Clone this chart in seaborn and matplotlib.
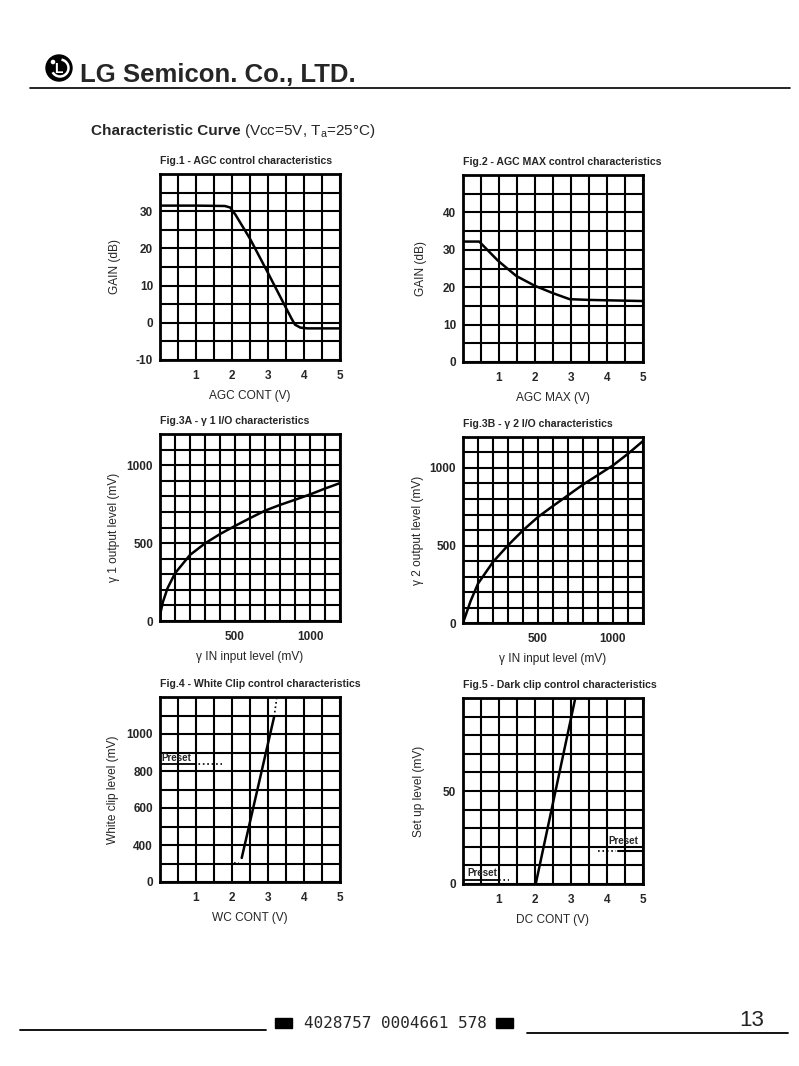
import matplotlib
matplotlib.use("Agg")
import matplotlib.pyplot as plt
from matplotlib.patches import Circle, Arc, Rectangle
import seaborn as sns

# Fig.1 - AGC control characteristics
agc_cont = [0, 1.0, 1.8, 1.95, 2.1, 2.5, 3.0, 3.5, 3.65, 3.75, 3.9, 4.1, 5.0]
agc_gain = [31.5, 31.5, 31.4, 31.0, 29.0, 22.6, 13.4, 4.0, 1.2, -0.5, -1.3, -1.5, -1.5]

# Fig.2 - AGC MAX control characteristics
agc_max = [0, 0.45, 0.97, 1.48, 1.99, 2.5, 2.96, 3.5, 4.0, 4.5, 5.0]
agc_max_gain = [32.2, 32.2, 27.1, 23.0, 20.4, 18.4, 16.8, 16.6, 16.5, 16.4, 16.3]

# Fig.3A - gamma1 I/O
g1_in = [0, 5, 20, 50, 100, 200, 300, 400, 500, 600, 700, 800, 900, 1000, 1100, 1200]
g1_out = [0, 60, 124, 210, 306, 424, 498, 558, 610, 660, 708, 745, 778, 812, 850, 885]

# Fig.3B - gamma2 I/O
g2_in = [0, 50, 100, 200, 300, 400, 500, 600, 700, 800, 900, 1000, 1100, 1200]
g2_out = [0, 140, 254, 394, 501, 598, 684, 755, 824, 893, 955, 1017, 1092, 1174]

# Fig.4 - White clip control
wc_cont = [2.27, 3.17]
wc_level = [330, 1093]
wc_top_cont = [3.17, 3.24]
wc_top_level = [1093, 1190]
wc_low_cont = [2.05, 2.2]
wc_low_level = [305, 305]
wc_preset = 836

# Fig.5 - Dark clip control
dc_cont = [2.02, 3.12]
dc_level = [0, 100]
dc_preset_low = 2
dc_preset_high = 18

W, H = 799, 1066
TICK = 8.5
LABEL = 8.6
TITLE = 7.6
PRESET = 7

sns.set_style("white")
plt.rcParams['font.family'] = ['Liberation Sans', 'DejaVu Sans']
plt.rcParams['mathtext.fontset'] = 'custom'
plt.rcParams['mathtext.rm'] = 'Liberation Sans'

fig = plt.figure(figsize=(W / 100, H / 100), dpi=100)

# page layer for header / footer, drawn in pixel coordinates
page = fig.add_axes([0, 0, 1, 1], zorder=0)
page.set_xlim(0, W)
page.set_ylim(H, 0)
page.axis('off')

# LG logo
page.add_patch(Circle((59, 68), 13, color='black'))
page.add_patch(Arc((60, 68), 17, 17, theta1=-80, theta2=150, color='white', lw=1.8))
page.text(58, 69, 'L', color='white', fontsize=10, fontweight='bold', ha='center', va='center')
page.add_patch(Circle((53, 62), 1.6, color='white'))
page.text(80, 82, 'LG Semicon. Co., LTD.', fontsize=18.5, fontweight='bold', va='baseline')
page.plot([30, 790], [88, 88], color='black', lw=1.2)

page.text(91, 135, 'Characteristic Curve', fontsize=11, fontweight='bold', va='baseline')
page.text(244, 135, r'(Vcc=5V, T$_\mathregular{a}$=25°C)', fontsize=11, va='baseline')

# footer
page.plot([20, 266], [1030, 1030], color='black', lw=1.3)
page.add_patch(Rectangle((275, 1018), 17, 10, color='black'))
page.text(395, 1024, '4028757 0004661 578', fontsize=11.5, family='DejaVu Sans Mono',
          ha='center', va='center')
page.add_patch(Rectangle((496, 1018), 17, 10, color='black'))
page.plot([527, 788], [1033, 1033], color='black', lw=1.3)
page.text(752, 1020, '13', fontsize=16, color='#222222', ha='center', va='center')


def panel(px, xlim, ylim, xgrid, xlabels, ygrid, ylabels, title, xlab, ylab, ylab_px):
    l, t, r, b = px
    ax = fig.add_axes([l / W, 1 - b / H, (r - l) / W, (b - t) / H], zorder=2)
    ax.set_xlim(*xlim)
    ax.set_ylim(*ylim)
    ax.set_xticks(xgrid)
    ax.set_xticklabels(xlabels, fontsize=TICK, fontweight='bold')
    ax.set_yticks(ygrid)
    ax.set_yticklabels(ylabels, fontsize=TICK, fontweight='bold')
    ax.tick_params(length=0, axis='x', pad=7)
    ax.tick_params(length=0, axis='y', pad=5)
    ax.grid(True, color='black', lw=1.5)
    for s in ax.spines.values():
        s.set_color('black')
        s.set_linewidth(2)
    ax.set_title(title, loc='left', fontsize=TITLE, fontweight='bold', pad=7)
    ax.set_xlabel(xlab, fontsize=LABEL, va='center')
    ax.xaxis.set_label_coords(0.5, -36 / (b - t))
    ax.set_ylabel(ylab, fontsize=LABEL, va='center')
    ax.yaxis.set_label_coords((ylab_px - l) / (r - l), 0.5)
    return ax


def fr(a, b, s):
    out = []
    v = a
    while v <= b + 1e-9:
        out.append(round(v, 3))
        v += s
    return out


def lab(vals, show):
    return [(str(int(v)) if v in show else '') for v in vals]


# Fig.1
xg = fr(0, 5, 0.5)
yg = fr(-10, 40, 5)
ax1 = panel((160, 174, 340, 360), (0, 5), (-10, 40), xg, lab(xg, [1, 2, 3, 4, 5]),
            yg, lab(yg, [-10, 0, 10, 20, 30]),
            'Fig.1 - AGC control characteristics', 'AGC CONT (V)', 'GAIN (dB)', 115)
sns.lineplot(x=agc_cont, y=agc_gain, ax=ax1, color='black', lw=1.8, sort=False, estimator=None)

# Fig.2
yg = fr(0, 50, 5)
ax2 = panel((463, 175, 643, 362), (0, 5), (0, 50), xg, lab(xg, [1, 2, 3, 4, 5]),
            yg, lab(yg, [0, 10, 20, 30, 40]),
            'Fig.2 - AGC MAX control characteristics', 'AGC MAX (V)', 'GAIN (dB)', 421)
sns.lineplot(x=agc_max, y=agc_max_gain, ax=ax2, color='black', lw=1.8, sort=False, estimator=None)

# Fig.3A
g = fr(0, 1200, 100)
ax3 = panel((160, 434, 340, 621), (0, 1200), (0, 1200), g, lab(g, [500, 1000]),
            g, lab(g, [0, 500, 1000]),
            'Fig.3A - \u03b3 1 I/O characteristics', '\u03b3 IN input level (mV)',
            '\u03b3 1 output level (mV)', 114)
sns.lineplot(x=g1_in, y=g1_out, ax=ax3, color='black', lw=1.8, sort=False, estimator=None)

# Fig.3B
ax4 = panel((463, 437, 643, 623), (0, 1200), (0, 1200), g, lab(g, [500, 1000]),
            g, lab(g, [0, 500, 1000]),
            'Fig.3B - \u03b3 2 I/O characteristics', '\u03b3 IN input level (mV)',
            '\u03b3 2 output level (mV)', 418)
sns.lineplot(x=g2_in, y=g2_out, ax=ax4, color='black', lw=1.8, sort=False, estimator=None)

# Fig.4 (bottom row stands for 0..300 mV)
yg = fr(200, 1200, 100)
ylab4 = ['0' if v == 200 else ('' if v not in (400, 600, 800, 1000) else str(int(v))) for v in yg]
ax5 = panel((160, 697, 340, 882), (0, 5), (200, 1200), xg, lab(xg, [1, 2, 3, 4, 5]),
            yg, ylab4,
            'Fig.4 - White Clip control characteristics', 'WC CONT (V)',
            'White clip level (mV)', 113)
sns.lineplot(x=wc_cont, y=wc_level, ax=ax5, color='black', lw=1.8, sort=False, estimator=None)
sns.lineplot(x=wc_top_cont, y=wc_top_level, ax=ax5, color='black', lw=1.2, ls=':', sort=False, estimator=None)
sns.lineplot(x=wc_low_cont, y=wc_low_level, ax=ax5, color='black', lw=1.2, ls=':', sort=False, estimator=None)
sns.lineplot(x=[0, 0.95], y=[wc_preset, wc_preset], ax=ax5, color='black', lw=1.3, sort=False, estimator=None)
sns.lineplot(x=[0.95, 1.72], y=[wc_preset, wc_preset], ax=ax5, color='black', lw=1.2, ls=':', sort=False, estimator=None)
ax5.text(0.05, 868, 'Preset', fontsize=PRESET, fontweight='bold', va='center')

# Fig.5
yg = fr(0, 100, 10)
ax6 = panel((463, 698, 643, 884), (0, 5), (0, 100), xg, lab(xg, [1, 2, 3, 4, 5]),
            yg, lab(yg, [0, 50]),
            'Fig.5 - Dark clip control characteristics', 'DC CONT (V)',
            'Set up level (mV)', 419)
sns.lineplot(x=dc_cont, y=dc_level, ax=ax6, color='black', lw=1.8, sort=False, estimator=None)
sns.lineplot(x=[0, 1.0], y=[dc_preset_low, dc_preset_low], ax=ax6, color='black', lw=1.3, sort=False, estimator=None)
sns.lineplot(x=[1.0, 1.28], y=[dc_preset_low, dc_preset_low], ax=ax6, color='black', lw=1.2, ls=':', sort=False, estimator=None)
sns.lineplot(x=[4.3, 5.0], y=[dc_preset_high, dc_preset_high], ax=ax6, color='black', lw=1.5, sort=False, estimator=None)
sns.lineplot(x=[3.75, 4.25], y=[dc_preset_high, dc_preset_high], ax=ax6, color='black', lw=1.2, ls=':', sort=False, estimator=None)
ax6.text(0.12, 6, 'Preset', fontsize=PRESET, fontweight='bold', va='center')
ax6.text(4.05, 23, 'Preset', fontsize=PRESET, fontweight='bold', va='center')

fig.savefig('out.png', dpi=100)
